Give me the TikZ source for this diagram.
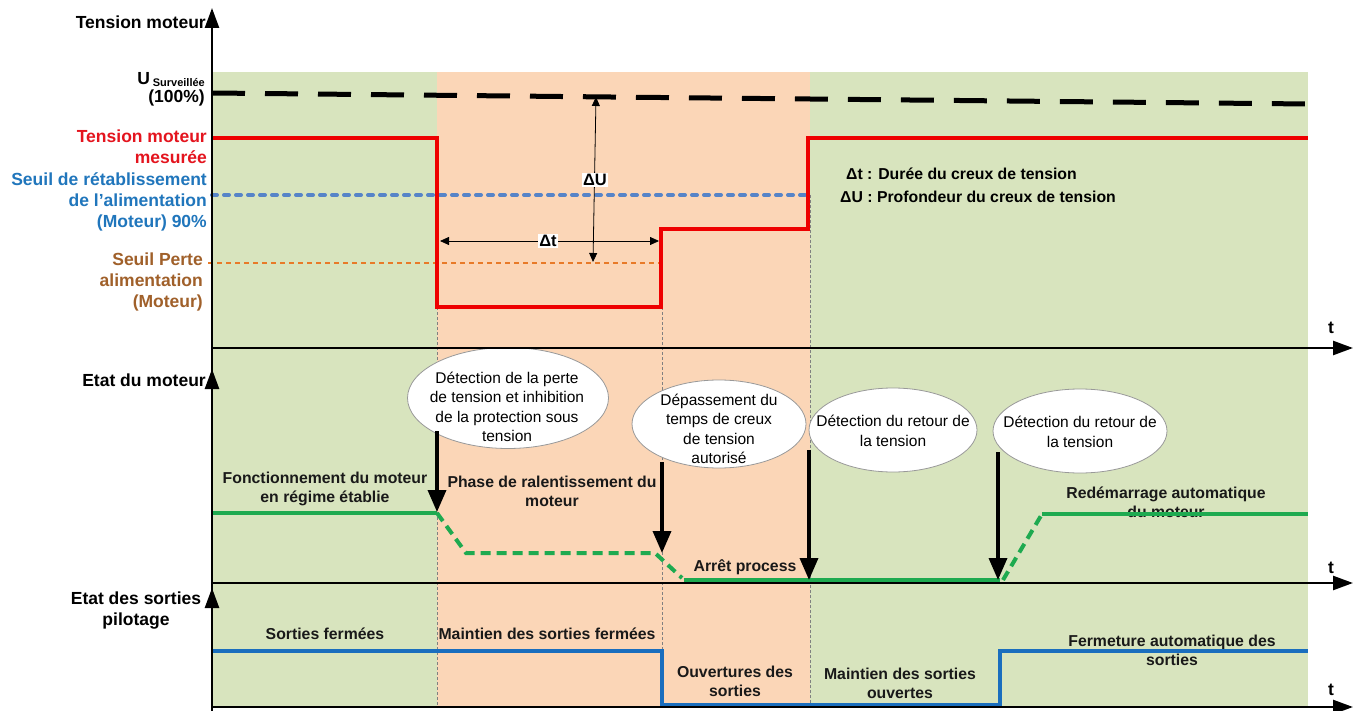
\documentclass[tikz,border=0pt]{standalone}
\usepackage{fontspec}
\setmainfont{Liberation Sans}
\usetikzlibrary{arrows.meta,shapes.geometric}

\definecolor{bggreen}{RGB}{216,228,190}
\definecolor{bgorange}{RGB}{251,214,183}
\definecolor{redline}{RGB}{238,0,0}
\definecolor{redtext}{RGB}{228,20,30}
\definecolor{bluedot}{RGB}{86,132,200}
\definecolor{bluetext}{RGB}{32,118,188}
\definecolor{orangedot}{RGB}{232,122,40}
\definecolor{browntext}{RGB}{160,96,42}
\definecolor{greenline}{RGB}{30,170,80}
\definecolor{blueline}{RGB}{26,110,190}

\begin{document}
\begin{tikzpicture}[x=1pt,y=-1pt,
  axisline/.style={line width=2.5pt},
  axisarrow/.style={line width=2.5pt,-{Triangle[length=20pt,width=14pt]}},
  guide/.style={gray,line width=0.6pt,dash pattern=on 3pt off 2pt},
  blackdash/.style={line width=5pt,dash pattern=on 33pt off 20pt},
  bluedots/.style={bluedot,line width=4pt,line cap=round,dash pattern=on 5pt off 7pt},
  orangedots/.style={orangedot,line width=2.5pt,dash pattern=on 5pt off 4pt},
  redtrace/.style={redline,line width=4.5pt,line join=miter},
  greensolid/.style={greenline,line width=4pt},
  greendash/.style={greenline,line width=4pt,dash pattern=on 10pt off 6pt},
  bluetrace/.style={blueline,line width=4pt,line join=miter},
  dimarrow/.style={line width=0.8pt,{Triangle[length=9pt,width=8pt]}-{Triangle[length=9pt,width=8pt]}},
  eventarrow/.style={line width=3.5pt,-{Triangle[length=22pt,width=18pt]}},
  bubble/.style={ellipse,draw=gray!80,fill=white,line width=0.8pt,inner sep=0pt},
  bubbletext/.style={align=center,inner sep=0pt,font=\fontsize{15.5}{19.3}\selectfont},
  heading/.style={font=\bfseries\fontsize{17.5}{21}\selectfont,inner sep=0pt},
  sidelabel/.style={font=\bfseries\fontsize{17.5}{21}\selectfont,align=right,inner sep=0pt,anchor=east},
  lab/.style={font=\bfseries\fontsize{15.8}{18.8}\selectfont,align=center,inner sep=0pt,text=black!90},
  dimlabel/.style={font=\bfseries\fontsize{16.5}{19}\selectfont,fill=white,inner sep=1pt}
]
\useasboundingbox (0,0) rectangle (1357,711);
\fill[white] (0,0) rectangle (1357,711);

% time phases
\fill[bggreen] (212,72) rectangle (437,707);
\fill[bgorange] (437,72) rectangle (810,707);
\fill[bggreen] (810,72) rectangle (1308,707);

% phase boundaries
\draw[guide] (437,307) -- (437,707);
\draw[guide] (662,307) -- (662,707);
\draw[guide] (810,195) -- (810,707);

% ---------- motor voltage ----------
\draw[blackdash] (212,93) -- (1308,104);
\draw[bluedots] (212,195) -- (806,195);
\draw[orangedots] (208,263) -- (660,263);
\draw[redtrace] (212,138) -| (437,307) -| (661,229) -| (808,138) -- (1308,138);

\coordinate (duTop) at (596,97);
\coordinate (duBot) at (593,262);
\coordinate (dtL) at (440,241);
\coordinate (dtR) at (659,241);
\draw[dimarrow] (duTop) -- (duBot);
\draw[dimarrow] (dtL) -- (dtR);
\node[dimlabel] (du) at (595,180) {ΔU};
\node[dimlabel] (dt) at (548,241) {Δt};

\node[font=\bfseries\fontsize{15.8}{19}\selectfont,anchor=west,inner sep=0pt] (legdt) at (846,174) {Δt : Durée du creux de tension};
\node[font=\bfseries\fontsize{15.8}{19}\selectfont,anchor=west,inner sep=0pt] (legdu) at (840,197) {ΔU : Profondeur du creux de tension};

% left side labels
\node[heading,anchor=east] (hv) at (206,22) {Tension moteur};
\node[sidelabel,anchor=base east] (usv) at (205,85) {U\,\raisebox{-2pt}{\fontsize{11}{12}\selectfont Surveillée}};
\node[sidelabel,anchor=base east] (u100) at (205,103) {(100\%)};
\node[sidelabel,text=redtext] (lred) at (207,147) {Tension moteur\\mesurée};
\node[sidelabel,text=bluetext] (lblue) at (207,202) {Seuil de rétablissement\\de l’alimentation\\(Moteur) 90\%};
\node[sidelabel,text=browntext] (lbrown) at (203,282) {Seuil Perte\\alimentation\\(Moteur)};

% ---------- motor state ----------
\node[heading,anchor=east] (hm) at (206,380) {Etat du moteur};

\node[lab] (run) at (325,489) {Fonctionnement du moteur\\en régime établie};
\node[lab] (slow) at (552,491) {Phase de ralentissement du\\moteur};
\node[lab] (stop) at (745,567) {Arrêt process};
\node[lab] (restart) at (1166,502) {Redémarrage automatique\\du moteur};

\draw[greensolid] (212,513) -- (437,513);
\draw[greendash] (437,513) -- (466,553) -- (655,553) -- (682,578);
\draw[greensolid] (684,580) -- (1000,580);
\draw[greendash] (1003,580) -- (1042,514);
\draw[greensolid] (1042,514) -- (1308,514);

\node[bubble,minimum width=201pt,minimum height=101pt] (e1) at (508,398) {};
\node[bubbletext] (t1) at (507,407) {Détection de la perte\\de tension et inhibition\\de la protection sous\\tension};
\node[bubble,minimum width=174pt,minimum height=88pt] (e2) at (719,424) {};
\node[bubbletext] (t2) at (719,429) {Dépassement du\\temps de creux\\de tension\\autorisé};
\node[bubble,minimum width=168pt,minimum height=84pt] (e3) at (893,430) {};
\node[bubbletext] (t3) at (893,431) {Détection du retour de\\la tension};
\node[bubble,minimum width=174pt,minimum height=84pt] (e4) at (1080,431) {};
\node[bubbletext] (t4) at (1080,432) {Détection du retour de\\la tension};

\coordinate (a1s) at (437,431);
\coordinate (a1e) at (437,512);
\coordinate (a2s) at (662,462);
\coordinate (a2e) at (662,553);
\coordinate (a3s) at (809,450);
\coordinate (a3e) at (809,580);
\coordinate (a4s) at (998,452);
\coordinate (a4e) at (998,580);
\draw[eventarrow] (a1s) -- (a1e);
\draw[eventarrow] (a2s) -- (a2e);
\draw[eventarrow] (a3s) -- (a3e);
\draw[eventarrow] (a4s) -- (a4e);

% ---------- control outputs ----------
\node[heading,align=center] (hs) at (136,611) {Etat des sorties\\pilotage};

\node[lab] (closed) at (325,634) {Sorties fermées};
\node[lab] (keepclosed) at (547,634) {Maintien des sorties fermées};
\node[lab] (opening) at (735,681) {Ouvertures des\\sorties};
\node[lab] (keepopen) at (900,683) {Maintien des sorties\\ouvertes};
\node[lab] (reclose) at (1172,650) {Fermeture automatique des\\sorties};

\draw[bluetrace] (212,651) -| (662,705) -| (1000,651) -- (1308,651);

% ---------- axes ----------
\draw[axisline] (212,711) -- (212,30);
\draw[axisarrow] (212,348) -- (212,8);
\draw[axisarrow] (212,583) -- (212,369);
\draw[axisarrow] (212,707) -- (212,588);
\draw[axisarrow] (212,348) -- (1353,348);
\draw[axisarrow] (212,583) -- (1353,583);
\draw[axisarrow] (212,707) -- (1353,707);
\node[heading] (t1lab) at (1331,328) {t};
\node[heading] (t2lab) at (1331,568) {t};
\node[heading] (t3lab) at (1331,690) {t};
\end{tikzpicture}
\end{document}
